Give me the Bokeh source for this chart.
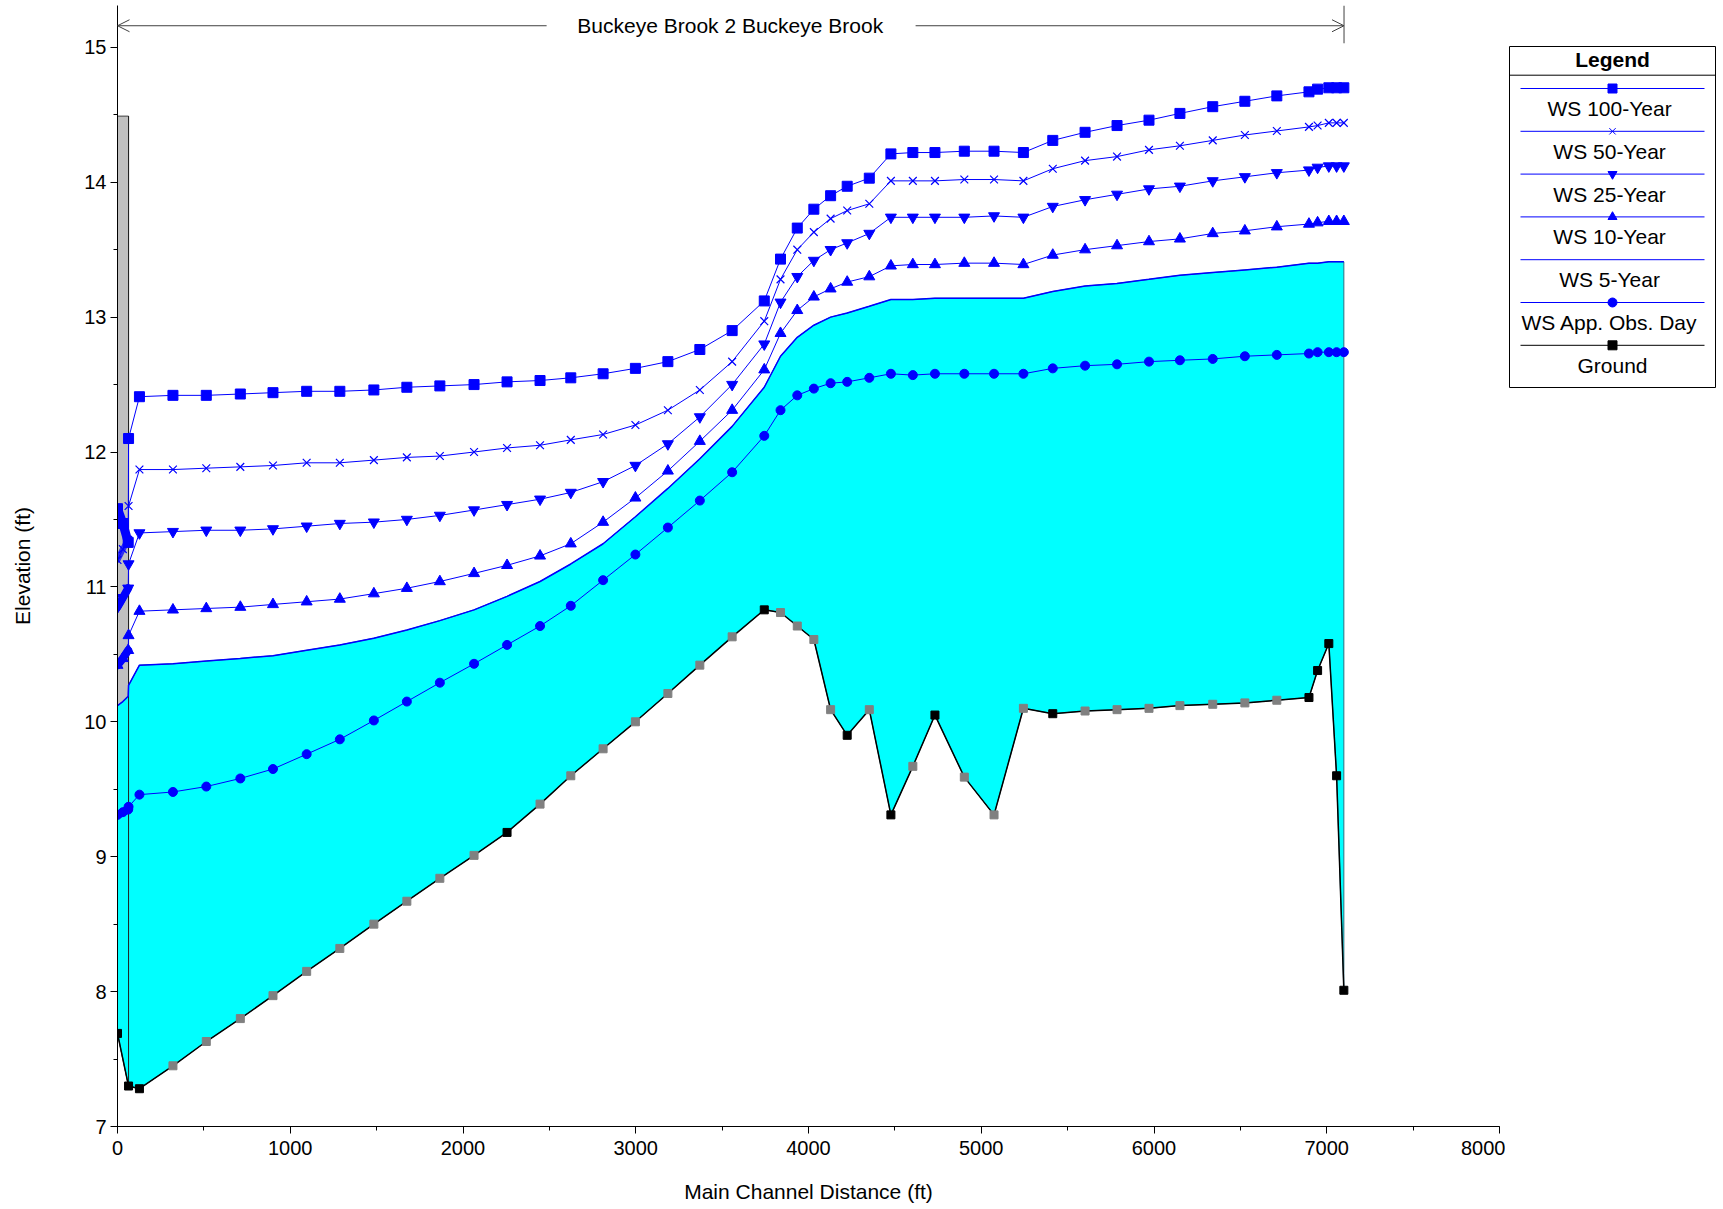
from bokeh.plotting import figure
from bokeh.models import Range1d, FixedTicker, Arrow, OpenHead, Label
from bokeh.layouts import row
from bokeh.embed import file_html
from bokeh.resources import INLINE
from bokeh.core.properties import value

FONT = "Liberation Sans"

# ---------------- data ----------------
station_ground = [0, 64, 127, 321, 514, 711, 900, 1095, 1287, 1484, 1675, 1866, 2064, 2255,
                  2446, 2624, 2811, 2998, 3186, 3371, 3558, 3744, 3838, 3935, 4031, 4128,
                  4224, 4352, 4477, 4604, 4732, 4902, 5074, 5244, 5414, 5601, 5786, 5971,
                  6150, 6340, 6526, 6711, 6897, 6947, 7012, 7057, 7099]
ground = [7.69, 7.30, 7.28, 7.45, 7.63, 7.80, 7.97, 8.15, 8.32, 8.50, 8.67, 8.84, 9.01, 9.18,
          9.39, 9.60, 9.80, 10.00, 10.21, 10.42, 10.63, 10.83, 10.81, 10.71, 10.61, 10.09,
          9.90, 10.09, 9.31, 9.67, 10.05, 9.59, 9.31, 10.10, 10.06, 10.08, 10.09, 10.10,
          10.12, 10.13, 10.14, 10.16, 10.18, 10.38, 10.58, 9.60, 8.01]
# 1 = surveyed cross section (black marker), 0 = interpolated section (grey marker)
ground_surveyed = [1, 1, 1, 0, 0, 0, 0, 0, 0, 0, 0, 0, 0, 1,
                   0, 0, 0, 0, 0, 0, 0, 1, 0, 0, 0, 0,
                   1, 0, 1, 0, 1, 0, 0, 0, 1, 0, 0, 0,
                   0, 0, 0, 0, 1, 1, 1, 1, 1]

# water-surface stations: bridge internal sections + the ground stations
bridge_internal = [0, 31, 62]
station_ws = bridge_internal + station_ground[1:]

ws_100 = [11.58, 11.47, 11.33, 12.10, 12.41, 12.42, 12.42, 12.43, 12.44, 12.45, 12.45, 12.46,
          12.48, 12.49, 12.50, 12.52, 12.53, 12.55, 12.58, 12.62, 12.67, 12.76, 12.90, 13.12,
          13.43, 13.66, 13.80, 13.90, 13.97, 14.03, 14.21, 14.22, 14.22, 14.23, 14.23, 14.22,
          14.31, 14.37, 14.42, 14.46, 14.51, 14.56, 14.60, 14.64, 14.67, 14.69, 14.70, 14.70, 14.70]
ws_50 = [11.20, 11.28, 11.35, 11.60, 11.87, 11.87, 11.88, 11.89, 11.90, 11.92, 11.92, 11.94,
         11.96, 11.97, 12.00, 12.03, 12.05, 12.09, 12.13, 12.20, 12.31, 12.46, 12.67, 12.97,
         13.28, 13.50, 13.63, 13.73, 13.79, 13.84, 14.01, 14.01, 14.01, 14.02, 14.02, 14.01,
         14.10, 14.16, 14.19, 14.24, 14.27, 14.31, 14.35, 14.38, 14.41, 14.42, 14.44, 14.44, 14.44]
ws_25 = [10.85, 10.92, 10.99, 11.17, 11.40, 11.41, 11.42, 11.42, 11.43, 11.45, 11.47, 11.48,
         11.50, 11.53, 11.57, 11.61, 11.65, 11.70, 11.78, 11.90, 12.06, 12.26, 12.50, 12.80,
         13.11, 13.30, 13.42, 13.50, 13.55, 13.62, 13.74, 13.74, 13.74, 13.74, 13.75, 13.74,
         13.82, 13.87, 13.91, 13.95, 13.97, 14.01, 14.04, 14.07, 14.09, 14.11, 14.12, 14.12, 14.12]
ws_10 = [10.42, 10.47, 10.53, 10.64, 10.82, 10.83, 10.84, 10.85, 10.87, 10.89, 10.91, 10.95,
         10.99, 11.04, 11.10, 11.16, 11.23, 11.32, 11.48, 11.66, 11.86, 12.08, 12.31, 12.61,
         12.88, 13.05, 13.15, 13.21, 13.26, 13.30, 13.38, 13.39, 13.39, 13.40, 13.40, 13.39,
         13.46, 13.50, 13.53, 13.56, 13.58, 13.62, 13.64, 13.67, 13.69, 13.70, 13.71, 13.71, 13.71]
ws_5 = [10.12, 10.15, 10.19, 10.27, 10.42, 10.43, 10.45, 10.47, 10.49, 10.53, 10.57, 10.62,
        10.68, 10.75, 10.83, 10.93, 11.04, 11.17, 11.32, 11.52, 11.73, 11.95, 12.19, 12.48,
        12.71, 12.85, 12.94, 13.00, 13.03, 13.08, 13.13, 13.13, 13.14, 13.14, 13.14, 13.14,
        13.19, 13.23, 13.25, 13.28, 13.31, 13.33, 13.35, 13.37, 13.40, 13.40, 13.41, 13.41, 13.41]
ws_obs = [9.31, 9.33, 9.35, 9.37, 9.46, 9.48, 9.52, 9.58, 9.65, 9.76, 9.87, 10.01,
          10.15, 10.29, 10.43, 10.57, 10.71, 10.86, 11.05, 11.24, 11.44, 11.64, 11.85, 12.12,
          12.31, 12.42, 12.47, 12.51, 12.52, 12.55, 12.58, 12.57, 12.58, 12.58, 12.58, 12.58,
          12.62, 12.64, 12.65, 12.67, 12.68, 12.69, 12.71, 12.72, 12.73, 12.74, 12.74, 12.74, 12.74]

bridge_x = [0, 64]
bridge_high_chord = 14.49

reach_label = "Buckeye Brook 2 Buckeye Brook"
reach_start, reach_end = 0, 7100
reach_label_x = 3547
reach_gap = [2484, 4620]

x_ticks = list(range(0, 8001, 1000))
y_ticks = list(range(7, 16))

legend_names = ["WS  100-Year", "WS  50-Year", "WS  25-Year", "WS  10-Year",
                "WS  5-Year", "WS  App. Obs. Day", "Ground"]

BLUE = "#0000FF"
CYAN = "#00FFFF"

# ---------------- main figure ----------------
Y1 = 15.31
p = figure(width=1505, height=1209, x_range=Range1d(0, 8000), y_range=Range1d(7, Y1),
           output_backend="svg", toolbar_location=None,
           min_border_left=117, min_border_right=6, min_border_top=5, min_border_bottom=83)
p.outline_line_color = None
p.xgrid.visible = False
p.ygrid.visible = False

p.xaxis.ticker = FixedTicker(ticks=x_ticks, minor_ticks=list(range(0, 8001, 500)))
p.yaxis.ticker = FixedTicker(ticks=y_ticks, minor_ticks=[7 + 0.5 * i for i in range(17)])
p.xaxis.axis_label = "Main Channel Distance (ft)"
p.yaxis.axis_label = "Elevation (ft)"
for ax in (p.xaxis[0], p.yaxis[0]):
    ax.major_tick_in = 0
    ax.major_tick_out = 7
    ax.minor_tick_in = 0
    ax.minor_tick_out = 4
    ax.axis_line_color = "black"
    ax.major_tick_line_color = "black"
    ax.minor_tick_line_color = "black"
    ax.major_label_text_font = FONT
    ax.major_label_text_font_size = "20px"
    ax.major_label_text_color = "black"
    ax.axis_label_text_font = FONT
    ax.axis_label_text_font_size = "21px"
    ax.axis_label_text_font_style = "normal"
    ax.axis_label_text_color = "black"
p.yaxis.major_label_standoff = 4
p.yaxis.axis_label_standoff = 47
p.xaxis.major_label_standoff = 7
p.xaxis.axis_label_standoff = 22

# bridge deck
p.patch([bridge_x[0], bridge_x[0], bridge_x[1], bridge_x[1]],
        [ground[0], bridge_high_chord, bridge_high_chord, ground[1]],
        fill_color="#C0C0C0", line_color="#404040", line_width=1)

# water fill (5-year) down to ground
fill_x = station_ws + station_ground[::-1]
fill_y = ws_5 + ground[::-1]
p.patch(fill_x, fill_y, fill_color=CYAN, line_color="#2F6F80", line_width=1)

# bridge right edge over the water
p.line([bridge_x[1], bridge_x[1]], [ground[1], bridge_high_chord], line_color="#202020", line_width=1)

# water surface profiles
nb = len(bridge_internal)
p.line(station_ws, ws_5, line_color=BLUE, line_width=1.5)
series = [(ws_100, "square", 10, 9), (ws_50, "x", 11, 6), (ws_25, "inverted_triangle", 11, 8),
          (ws_10, "triangle", 11, 8), (ws_obs, "circle", 9, 8)]
for ys, mk, sz, blob in series:
    p.line(station_ws, ys, line_color=BLUE, line_width=1)
    # dense bridge-internal markers appear as a thick stroke
    p.line(station_ws[:nb], ys[:nb], line_color=BLUE, line_width=blob, line_cap="round",
           line_alpha=0.75 if mk == "x" else 1.0)
    if mk == "x":
        p.scatter(station_ws, ys, marker=mk, size=sz, line_color=BLUE, line_width=1.2)
    else:
        p.scatter(station_ws, ys, marker=mk, size=sz, fill_color=BLUE, line_color=BLUE)

# ground
p.line(station_ground, ground, line_color="black", line_width=1.5)
gcol = ["#000000" if s else "#808080" for s in ground_surveyed]
p.scatter(station_ground, ground, marker="square", size=8, fill_color=gcol, line_color=gcol)

# reach annotation
arrow_y = 15.16
p.add_layout(Arrow(x_start=reach_gap[0], y_start=arrow_y, x_end=reach_start, y_end=arrow_y,
                   line_color="#404040", line_width=1,
                   end=OpenHead(size=12, line_color="#404040", line_width=1)))
p.add_layout(Arrow(x_start=reach_gap[1], y_start=arrow_y, x_end=reach_end, y_end=arrow_y,
                   line_color="#404040", line_width=1,
                   end=OpenHead(size=12, line_color="#404040", line_width=1)))
p.line([reach_end, reach_end], [15.03, Y1], line_color="#404040", line_width=1)
p.add_layout(Label(x=reach_label_x, y=arrow_y, text=reach_label, text_font=FONT,
                   text_font_size="21px", text_align="center", text_baseline="middle",
                   text_color="black"))

# ---------------- legend figure ----------------
# pixel coordinates: frame spans y = 5 .. 1126 (aligned with the main frame)
leg = figure(width=218, height=1209, x_range=Range1d(1505, 1723), y_range=Range1d(1126, 5),
             output_backend="svg", toolbar_location=None,
             min_border_left=0, min_border_right=0, min_border_top=5, min_border_bottom=83)
leg.axis.visible = False
leg.xgrid.visible = False
leg.ygrid.visible = False
leg.outline_line_color = None

box_l, box_r, box_t, box_b = 1509, 1715, 46, 387
leg.quad(left=[box_l], right=[box_r], top=[box_t], bottom=[box_b],
         fill_color="white", line_color="black", line_width=1)
leg.line([box_l, box_r], [74.7, 74.7], line_color="black", line_width=1)
cx = (box_l + box_r) / 2
leg.text([cx], [59], text=["Legend"], text_font=value(FONT), text_font_size="21px",
         text_font_style="bold", text_align="center", text_baseline="middle", text_color="black")

leg_markers = ["square", "x", "inverted_triangle", "triangle", None, "circle", "square"]
leg_colors = [BLUE] * 6 + ["black"]
for i, (name, mk, col) in enumerate(zip(legend_names, leg_markers, leg_colors)):
    yl = 88 + 42.8 * i
    leg.line([1520, 1704], [yl, yl], line_color=col, line_width=1)
    if mk == "x":
        leg.scatter([cx], [yl], marker=mk, size=9, line_color=col, line_width=1)
    elif mk is not None:
        leg.scatter([cx], [yl], marker=mk, size=9, fill_color=col, line_color=col)
    leg.text([cx], [yl + 20], text=[name], text_font=value(FONT), text_font_size="21px",
             text_align="center", text_baseline="middle", text_color="black")

layout = row(p, leg)
open("out.html", "w").write(file_html(layout, INLINE))
